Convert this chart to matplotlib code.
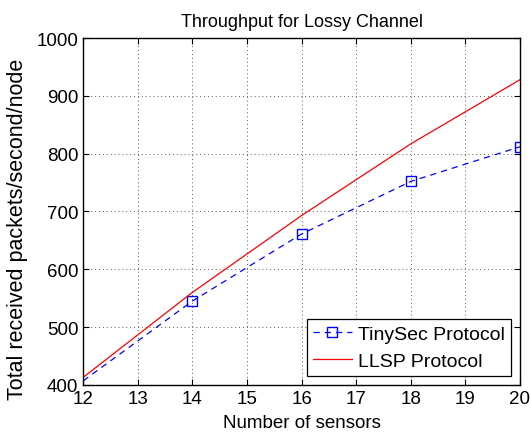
import matplotlib.pyplot as plt

plt.rcParams['font.family'] = ['Liberation Sans', 'DejaVu Sans']

sensors = [12, 14, 16, 18, 20]
tinysec = [407, 545, 661, 752, 812]
llsp = [413, 560, 693, 817, 928]

fig = plt.figure(figsize=(5.3, 4.35), dpi=100)
ax = fig.add_axes([0.157, 0.113, 0.824, 0.797])

ax.plot(sensors, tinysec, 'b--s', lw=0.9, markersize=7, markerfacecolor='none',
        markevery=[1, 2, 3, 4], dashes=(5, 4), label='TinySec Protocol')
ax.plot(sensors, llsp, 'r-', lw=0.9, label='LLSP Protocol')

ax.set_xlim(12, 20)
ax.set_ylim(400, 1000)
ax.set_xticks(range(12, 21))
ax.set_yticks(range(400, 1001, 100))
ax.tick_params(direction='in', top=True, right=True, labelsize=13.5, length=4)
ax.grid(True, linestyle=(0, (1, 3)), color='0.35', linewidth=0.7)
for s in ax.spines.values():
    s.set_linewidth(1.0)

ax.set_xlabel('Number of sensors', fontsize=13.5)
ax.xaxis.set_label_coords(0.5, -0.085)
ax.set_ylabel('Total received packets/second/node', fontsize=15.5)
ax.yaxis.set_label_coords(-0.126, 0.45)
ax.set_title('Throughput for Lossy Channel', fontsize=13, pad=9)

leg = ax.legend(loc='lower right', fontsize=14, fancybox=False, edgecolor='black',
                framealpha=1, handlelength=2.0, handletextpad=0.35, borderpad=0.3,
                borderaxespad=0.45)
leg.get_frame().set_linewidth(0.9)

plt.savefig('out.png', dpi=100)
